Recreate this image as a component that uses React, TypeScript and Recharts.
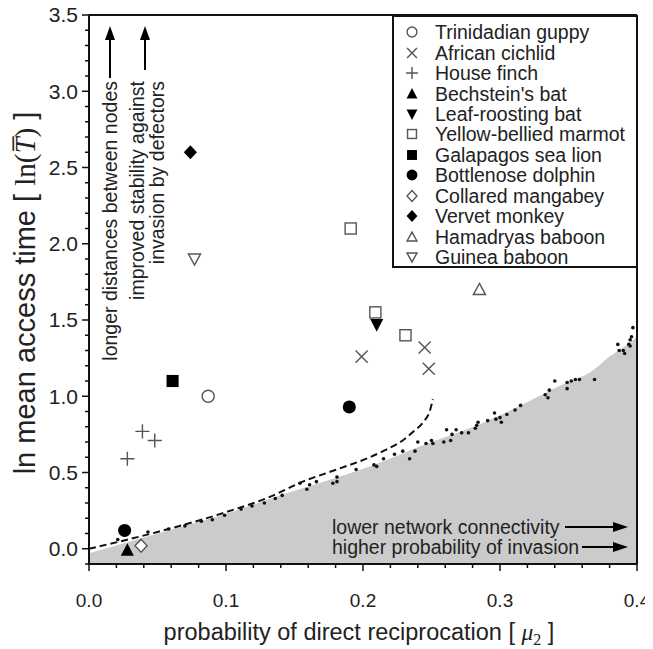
import {
  ComposedChart,
  XAxis,
  YAxis,
  Area,
  Line,
  Scatter,
  Legend,
  ReferenceLine,
} from "recharts";

const FONT = '"Liberation Sans", Arial, Helvetica, sans-serif';
const SERIF = '"Liberation Serif", "Times New Roman", serif';

// tick values
const xTicks = [0, 0.02, 0.04, 0.06, 0.08, 0.1, 0.12, 0.14, 0.16, 0.18, 0.2, 0.22, 0.24, 0.26, 0.28, 0.3, 0.32, 0.34, 0.36, 0.38, 0.4];
const xTickLabels = ["0.0", "0.1", "0.2", "0.3", "0.4"];
const yTicks = [-0.1, 0, 0.1, 0.2, 0.3, 0.4, 0.5, 0.6, 0.7, 0.8, 0.9, 1, 1.1, 1.2, 1.3, 1.4, 1.5, 1.6, 1.7, 1.8, 1.9, 2, 2.1, 2.2, 2.3, 2.4, 2.5, 2.6, 2.7, 2.8, 2.9, 3, 3.1, 3.2, 3.3, 3.4, 3.5];
const yTickLabels = ["0.0", "0.5", "1.0", "1.5", "2.0", "2.5", "3.0", "3.5"];

// shaded region (upper edge)
const regionX = [0, 0.05, 0.1, 0.143, 0.205, 0.25, 0.278, 0.315, 0.344, 0.368, 0.38, 0.393, 0.4];
const regionY = [-0.03, 0.1, 0.23, 0.36, 0.54, 0.7, 0.79, 0.94, 1.07, 1.17, 1.26, 1.34, 1.39];

// dashed theoretical curve
const dashX = [0, 0.05, 0.1, 0.132, 0.156, 0.181, 0.205, 0.217, 0.229, 0.237, 0.244, 0.249, 0.251];
const dashY = [0, 0.11, 0.24, 0.34, 0.44, 0.52, 0.6, 0.65, 0.71, 0.77, 0.83, 0.91, 0.98];

// simulated networks (small dots)
const simX = [0.021, 0.043, 0.058, 0.07, 0.082, 0.09, 0.099, 0.111, 0.119, 0.128, 0.136, 0.141, 0.154, 0.159, 0.161, 0.166, 0.178, 0.181, 0.181, 0.195, 0.208, 0.21, 0.215, 0.223, 0.229, 0.234, 0.238, 0.24, 0.246, 0.25, 0.251, 0.259, 0.261, 0.264, 0.265, 0.268, 0.272, 0.277, 0.282, 0.283, 0.284, 0.291, 0.296, 0.297, 0.3, 0.301, 0.305, 0.311, 0.315, 0.333, 0.335, 0.336, 0.34, 0.349, 0.349, 0.352, 0.355, 0.358, 0.369, 0.386, 0.387, 0.39, 0.391, 0.394, 0.395, 0.396, 0.397, 0.395];
const simY = [0.06, 0.11, 0.13, 0.15, 0.18, 0.19, 0.22, 0.26, 0.28, 0.3, 0.33, 0.35, 0.43, 0.39, 0.42, 0.44, 0.43, 0.44, 0.47, 0.52, 0.55, 0.54, 0.59, 0.62, 0.64, 0.59, 0.64, 0.7, 0.69, 0.71, 0.69, 0.7, 0.78, 0.71, 0.75, 0.78, 0.76, 0.76, 0.79, 0.81, 0.83, 0.84, 0.89, 0.85, 0.86, 0.83, 0.88, 0.91, 0.94, 1.01, 0.99, 1.04, 1.1, 1.09, 1.05, 1.1, 1.11, 1.11, 1.11, 1.34, 1.3, 1.3, 1.28, 1.34, 1.37, 1.39, 1.45, 1.33];

// species
const trinidadianGuppy = [{ x: 0.087, y: 1.0 }];
const africanCichlid = [{ x: 0.199, y: 1.26 }, { x: 0.245, y: 1.32 }, { x: 0.248, y: 1.18 }];
const houseFinch = [{ x: 0.028, y: 0.59 }, { x: 0.039, y: 0.77 }, { x: 0.048, y: 0.71 }];
const bechsteinsBat = [{ x: 0.028, y: -0.01 }];
const leafRoostingBat = [{ x: 0.21, y: 1.47 }];
const yellowBelliedMarmot = [{ x: 0.191, y: 2.1 }, { x: 0.209, y: 1.55 }, { x: 0.231, y: 1.4 }];
const galapagosSeaLion = [{ x: 0.061, y: 1.1 }];
const bottlenoseDolphin = [{ x: 0.026, y: 0.12 }, { x: 0.19, y: 0.93 }];
const collaredMangabey = [{ x: 0.038, y: 0.02 }];
const vervetMonkey = [{ x: 0.074, y: 2.6 }];
const hamadryasBaboon = [{ x: 0.285, y: 1.7 }];
const guineaBaboon = [{ x: 0.077, y: 1.9 }];

const species = [
  { name: "Trinidadian guppy", kind: "circleOpen", data: trinidadianGuppy },
  { name: "African cichlid", kind: "cross", data: africanCichlid },
  { name: "House finch", kind: "plus", data: houseFinch },
  { name: "Bechstein's bat", kind: "triUp", data: bechsteinsBat },
  { name: "Leaf-roosting bat", kind: "triDown", data: leafRoostingBat },
  { name: "Yellow-bellied marmot", kind: "squareOpen", data: yellowBelliedMarmot },
  { name: "Galapagos sea lion", kind: "square", data: galapagosSeaLion },
  { name: "Bottlenose dolphin", kind: "circle", data: bottlenoseDolphin },
  { name: "Collared mangabey", kind: "diamondOpen", data: collaredMangabey },
  { name: "Vervet monkey", kind: "diamond", data: vervetMonkey },
  { name: "Hamadryas baboon", kind: "triUpOpen", data: hamadryasBaboon },
  { name: "Guinea baboon", kind: "triDownOpen", data: guineaBaboon },
];

const regionData = regionX.map((x, i) => ({ x, y: regionY[i] }));
const dashData = dashX.map((x, i) => ({ x, y: dashY[i] }));
const simData = simX.map((x, i) => ({ x, y: simY[i] }));

const GRAY = "#555";
const W = 653;
const H = 649;

function Marker({ kind, cx, cy, s = 1 }: { kind: string; cx: number; cy: number; s?: number }) {
  const h = 5.5 * s;
  switch (kind) {
    case "circleOpen":
      return <circle cx={cx} cy={cy} r={h} fill="#fff" stroke={GRAY} strokeWidth={1.4} />;
    case "circle":
      return <circle cx={cx} cy={cy} r={h + 0.5} fill="#000" />;
    case "cross":
      return (
        <path
          d={`M${cx - h},${cy - h}L${cx + h},${cy + h}M${cx - h},${cy + h}L${cx + h},${cy - h}`}
          stroke={GRAY}
          strokeWidth={1.4}
        />
      );
    case "plus":
      return (
        <path
          d={`M${cx - h - 1},${cy}L${cx + h + 1},${cy}M${cx},${cy - h - 1}L${cx},${cy + h + 1}`}
          stroke={GRAY}
          strokeWidth={1.4}
        />
      );
    case "triUp":
      return <polygon points={`${cx},${cy - h - 1} ${cx + h + 0.5},${cy + h - 0.5} ${cx - h - 0.5},${cy + h - 0.5}`} fill="#000" />;
    case "triDown":
      return <polygon points={`${cx},${cy + h + 1} ${cx + h + 0.5},${cy - h + 0.5} ${cx - h - 0.5},${cy - h + 0.5}`} fill="#000" />;
    case "triUpOpen":
      return <polygon points={`${cx},${cy - h} ${cx + h},${cy + h - 1} ${cx - h},${cy + h - 1}`} fill="#fff" stroke={GRAY} strokeWidth={1.4} />;
    case "triDownOpen":
      return <polygon points={`${cx},${cy + h} ${cx + h},${cy - h + 1} ${cx - h},${cy - h + 1}`} fill="#fff" stroke={GRAY} strokeWidth={1.4} />;
    case "squareOpen":
      return <rect x={cx - h + 0.5} y={cy - h + 0.5} width={2 * h - 1} height={2 * h - 1} fill="#fff" stroke={GRAY} strokeWidth={1.4} />;
    case "square":
      return <rect x={cx - h} y={cy - h} width={2 * h} height={2 * h} fill="#000" />;
    case "diamondOpen":
      return <polygon points={`${cx},${cy - h - 0.5} ${cx + h},${cy} ${cx},${cy + h + 0.5} ${cx - h},${cy}`} fill="#fff" stroke={GRAY} strokeWidth={1.4} />;
    case "diamond":
      return <polygon points={`${cx},${cy - h - 1} ${cx + h + 0.5},${cy} ${cx},${cy + h + 1} ${cx - h - 0.5},${cy}`} fill="#000" />;
    default:
      return null;
  }
}

// eslint-disable-next-line @typescript-eslint/no-explicit-any
const XTick = ({ x, y, payload }: any) => {
  const v = payload.value as number;
  const label = xTickLabels.find((l) => Math.abs(parseFloat(l) - v) < 1e-6);
  return (
    <g>
      <line x1={x} x2={x} y1={y} y2={y + (label ? 7 : 4)} stroke="#111" strokeWidth={1.5} />
      {label && (
        <text x={x} y={y + 36} dy="0.35em" textAnchor="middle" fontSize={19} fontFamily={FONT} fill="#222">
          {label}
        </text>
      )}
    </g>
  );
};

// eslint-disable-next-line @typescript-eslint/no-explicit-any
const YTick = ({ x, y, payload }: any) => {
  const v = payload.value as number;
  const label = yTickLabels.find((l) => Math.abs(parseFloat(l) - v) < 1e-6);
  return (
    <g>
      <line x1={x} x2={x - (label ? 7 : 4)} y1={y} y2={y} stroke="#111" strokeWidth={1.5} />
      {label && (
        <text x={x - 11} y={y} dy="0.35em" textAnchor="end" fontSize={21} fontFamily={FONT} fill="#222">
          {label}
        </text>
      )}
    </g>
  );
};

const LegendBox = () => (
  <div
    style={{
      border: "2px solid #111",
      background: "#fff",
      boxSizing: "border-box",
      width: 246,
      height: 253,
      padding: "5px 0 0 0",
      fontFamily: FONT,
      fontSize: 19.5,
      color: "#222",
    }}
  >
    {species.map((s) => (
      <div key={s.name} style={{ display: "flex", alignItems: "center", height: 20.45 }}>
        <svg width={41} height={20} style={{ flex: "none" }}>
          <Marker kind={s.kind} cx={18} cy={10} s={0.9} />
        </svg>
        <span style={{ whiteSpace: "nowrap", lineHeight: "20px" }}>{s.name}</span>
      </div>
    ))}
  </div>
);

const arrowUp = (x: number, y1: number, y2: number) => (
  <g>
    <line x1={x} x2={x} y1={y1} y2={y2 + 10} stroke="#000" strokeWidth={2} />
    <polygon points={`${x},${y2} ${x + 5},${y2 + 14} ${x - 5},${y2 + 14}`} fill="#000" />
  </g>
);

const arrowRight = (y: number, x1: number, x2: number) => (
  <g>
    <line x1={x1} x2={x2 - 10} y1={y} y2={y} stroke="#000" strokeWidth={2} />
    <polygon points={`${x2},${y} ${x2 - 15},${y - 5} ${x2 - 15},${y + 5}`} fill="#000" />
  </g>
);

export default function App() {
  return (
    <div style={{ position: "relative", width: W, height: H, margin: "-8px 0 0 -8px" }}>
      <ComposedChart width={W} height={H} margin={{ top: 15, right: 16, bottom: 0, left: 0 }}>
        <XAxis
          type="number"
          dataKey="x"
          domain={[0, 0.4]}
          ticks={xTicks}
          tick={<XTick />}
          tickSize={0}
          tickMargin={0}
          tickLine={false}
          axisLine={{ stroke: "#111", strokeWidth: 2 }}
          height={85}
          allowDataOverflow
          interval={0}
        />
        <YAxis
          type="number"
          dataKey="y"
          domain={[-0.1, 3.5]}
          ticks={yTicks}
          tick={<YTick />}
          tickSize={0}
          tickMargin={0}
          tickLine={false}
          axisLine={{ stroke: "#111", strokeWidth: 2 }}
          width={89}
          allowDataOverflow
          interval={0}
        />
        <Area
          data={regionData}
          dataKey="y"
          type="monotone"
          baseValue="dataMin"
          fill="#cbcbcb"
          fillOpacity={1}
          stroke="none"
          isAnimationActive={false}
        />
        <ReferenceLine y={3.5} stroke="#111" strokeWidth={2} />
        <ReferenceLine x={0.4} stroke="#111" strokeWidth={2} />
        <Scatter
          data={simData}
          isAnimationActive={false}
          // eslint-disable-next-line @typescript-eslint/no-explicit-any
          shape={(p: any) => <circle cx={p.cx} cy={p.cy} r={1.8} fill="#111" />}
        />
        <Line
          data={dashData}
          dataKey="y"
          type="monotone"
          stroke="#111"
          strokeWidth={2}
          strokeDasharray="7 4"
          dot={false}
          isAnimationActive={false}
        />
        {species.map((s) => (
          <Scatter
            key={s.name}
            name={s.name}
            data={s.data}
            isAnimationActive={false}
            // eslint-disable-next-line @typescript-eslint/no-explicit-any
            shape={(p: any) => <Marker kind={s.kind} cx={p.cx} cy={p.cy} s={1.1} />}
          />
        ))}
        <Legend
          layout="vertical"
          align="center"
          verticalAlign="middle"
          content={<LegendBox />}
          wrapperStyle={{ position: "absolute", left: 392, top: 15, width: 246, height: 253 }}
        />
      </ComposedChart>

      {/* annotations and axis titles, drawn on top of the plot */}
      <svg
        width={W}
        height={H}
        style={{ position: "absolute", left: 0, top: 0, pointerEvents: "none" }}
      >
        <g fontFamily={FONT} fontSize={19.5} fill="#222">
          {arrowUp(110, 78, 26)}
          {arrowUp(145, 70, 26)}
          <text transform="rotate(-90 110 81)" x={110} y={81} dy="0.35em" textAnchor="end">
            longer distances between nodes
          </text>
          <text transform="rotate(-90 137 81)" x={137} y={81} dy="0.35em" textAnchor="end">
            improved stability against
          </text>
          <text transform="rotate(-90 157 81)" x={157} y={81} dy="0.35em" textAnchor="end">
            invasion by defectors
          </text>
          <text x={332} y={527} dy="0.35em">lower network connectivity</text>
          {arrowRight(527, 565, 628)}
          <text x={332} y={547} dy="0.35em">higher probability of invasion</text>
          {arrowRight(547, 582, 628)}
        </g>
        <text x={359} y={640} textAnchor="middle" fontSize={23.5} fontFamily={FONT} fill="#222">
          probability of direct reciprocation [{" "}
          <tspan fontFamily={SERIF} fontStyle="italic">μ</tspan>
          <tspan fontFamily={SERIF} fontSize={16} dy={5}>2</tspan>
          <tspan dy={-5}> ]</tspan>
        </text>
        <text
          transform="rotate(-90 35 293)"
          x={35}
          y={293}
          textAnchor="middle"
          fontSize={29}
          fontFamily={FONT}
          fill="#222"
        >
          ln mean access time [ <tspan fontFamily={SERIF}>ln(</tspan>
          <tspan fontFamily={SERIF} fontStyle="italic">{"T\u0305"}</tspan>
          <tspan fontFamily={SERIF}>)</tspan> ]
        </text>
      </svg>
    </div>
  );
}
